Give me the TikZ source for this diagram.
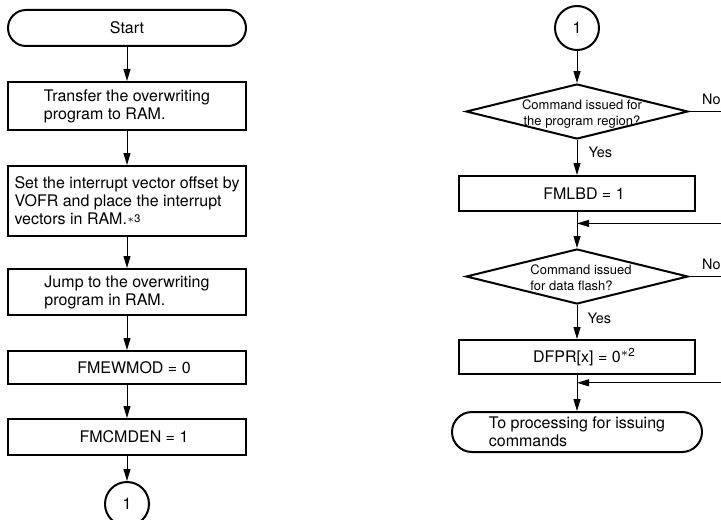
\documentclass[tikz,border=0pt]{standalone}
\usepackage{fontspec}
\setmainfont{TeX Gyre Heros}
\usetikzlibrary{arrows.meta,positioning,shapes.geometric}
\newcommand{\starnote}[3]{\raisebox{#1}{\fontsize{#2}{6}\selectfont$\ast$#3}}

\begin{document}
\begin{tikzpicture}[node distance=17pt, every node/.style={font=\fontsize{8}{9}\selectfont},
    terminal/.style={draw,line width=1pt,rectangle,rounded corners=9pt,inner sep=2pt,minimum width=119pt,minimum height=18pt},
    procbox/.style={draw,line width=1pt,rectangle,inner xsep=3pt,inner ysep=2pt,minimum width=119pt,align=left},
    onebox/.style={draw,line width=1pt,rectangle,inner sep=2pt,minimum width=119pt,execute at begin node={\hspace*{7pt}}},
    decision/.style={draw,line width=1pt,diamond,inner sep=0pt,minimum width=111pt,minimum height=27.5pt},
    qtext/.style={font=\fontsize{6.5}{8}\selectfont,inner sep=0pt},
    joint/.style={draw,line width=1pt,circle,inner sep=0pt,minimum size=22pt},
    answer/.style={font=\fontsize{7.2}{8}\selectfont,inner sep=0pt},
    arr/.style={-{Triangle[length=6pt,width=3.5pt]},line width=0.5pt}]
    \useasboundingbox (0,0) rectangle (360.5pt,-259.5pt);
    \coordinate (edge) at (360.5pt,0);

    % left column
    \node[terminal] (start) at (63.5pt,-14pt) {Start};
    \node[procbox,minimum height=24pt,below=of start] (transfer) {Transfer the overwriting\\program to RAM.};
    \node[procbox,minimum height=35pt,below=of transfer] (vectors) {Set the interrupt vector offset by\\VOFR and place the interrupt\\vectors in RAM.\starnote{1.2pt}{5.5}{3}};
    \node[procbox,minimum height=23pt,below=15.5pt of vectors] (jump) {Jump to the overwriting\\program in RAM.};
    \node[onebox,minimum height=16.5pt,below=of jump] (fmewmod) {FMEWMOD = 0};
    \node[onebox,minimum height=18pt,below=16.5pt of fmewmod] (fmcmden) {FMCMDEN = 1};
    \node[joint,below=12.5pt of fmcmden] (outA) {1};
    \draw[arr] (start)--(transfer);
    \draw[arr] (transfer)--(vectors);
    \draw[arr] (vectors)--(jump);
    \draw[arr] (jump)--(fmewmod);
    \draw[arr] (fmewmod)--(fmcmden);
    \draw[arr] (fmcmden)--(outA);

    % right column
    \node[joint] (inA) at (288.5pt,-14pt) {1};
    \node[decision,below=16pt of inA,label={[qtext,align=center,xshift=2.5pt,yshift=-1.5pt]center:Command issued for\\the program region?}] (progq) {};
    \node[onebox,minimum width=118pt,minimum height=17.5pt,below=17.5pt of progq] (fmlbd) {FMLBD = 1};
    \node[decision,below=18pt of fmlbd,label={[qtext,align=left,xshift=2pt,yshift=-0.75pt]center:Command issued\\for data flash?}] (flashq) {};
    \node[onebox,minimum width=118pt,minimum height=17pt,below=of flashq] (dfpr) {DFPR[x] = 0\starnote{3.3pt}{5.8}{2}};
    \node[terminal,rounded corners=10pt,minimum width=125pt,minimum height=20pt,align=left,below=18pt of dfpr] (toproc) {To processing for issuing\\commands};
    \draw[arr] (inA)--(progq);
    \draw[arr] (progq)-- node[answer,pos=0.35,right=5.5pt] (yesA) {Yes} (fmlbd);
    \draw[arr] (fmlbd)--(flashq);
    \draw[arr] (flashq)-- node[answer,pos=0.39,right=5pt] (yesB) {Yes} (dfpr);
    \draw[arr] (dfpr)--(toproc);
    \draw[line width=0.5pt] (progq.east)-- node[answer,pos=0.7,above=3pt] (noA) {No} (progq.east -| edge);
    \draw[line width=0.5pt] (flashq.east)-- node[answer,pos=0.7,above=3pt] (noB) {No} (flashq.east -| edge);
    \coordinate (backA) at (360.5pt,-111.7pt);
    \coordinate (backB) at (360.5pt,-191.4pt);
    \draw[arr] (backA)--(backA -| fmlbd.south);
    \draw[arr] (backB)--(backB -| dfpr.south);
\end{tikzpicture}
\end{document}
